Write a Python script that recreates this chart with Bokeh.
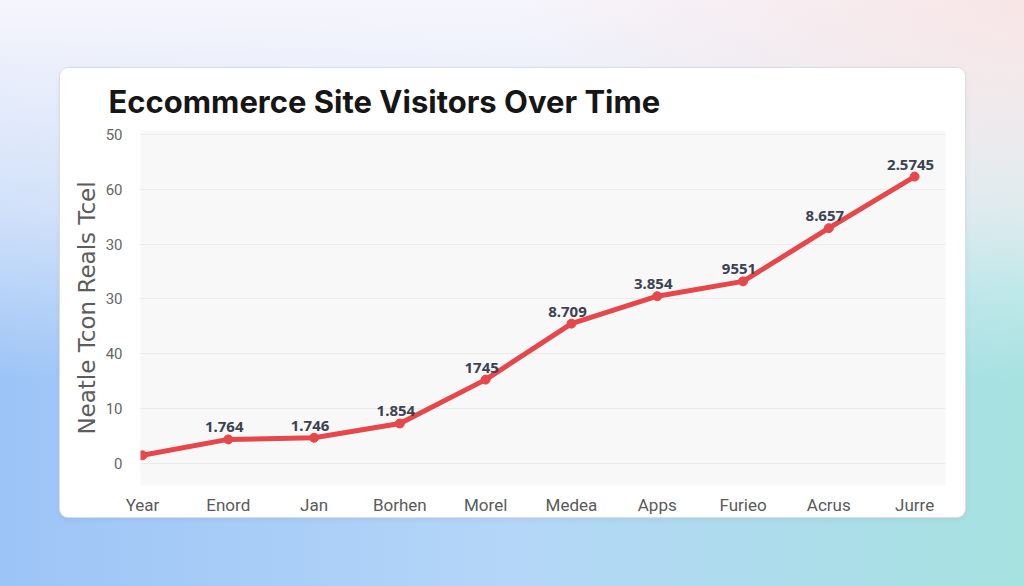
from bokeh.plotting import figure
from bokeh.models import ColumnDataSource, FixedTicker, Range1d
from bokeh.layouts import column
from bokeh.core.properties import value
from bokeh.embed import file_html
from bokeh.resources import INLINE

categories = ["Year", "Enord", "Jan", "Borhen", "Morel", "Medea", "Apps", "Furieo", "Acrus", "Jurre"]
visitors = [1.5, 4.4, 4.7, 7.3, 15.3, 25.5, 30.5, 33.2, 42.9, 52.3]
point_labels = ["", "1.764", "1.746", "1.854", "1745", "8.709", "3.854", "9551", "8.657", "2.5745"]
y_tick_values = [0, 10, 20, 30, 40, 50, 60]
y_tick_labels = ["0", "10", "40", "30", "30", "60", "50"]
title_text = "Eccommerce Site Visitors Over Time"
y_axis_title = "Neatle Tcon Reals Tcel"

xs = list(range(len(categories)))
source = ColumnDataSource(dict(x=xs, y=visitors, label=point_labels))

p = figure(
    width=905, height=449,
    x_range=Range1d(-0.023, 9.36), y_range=Range1d(-4.0, 60.7),
    output_backend="svg", toolbar_location=None,
    min_border_left=80, min_border_right=20, min_border_top=62, min_border_bottom=32,
    background_fill_color="#f8f8f8", border_fill_color=None,
    outline_line_color=None,
)
p.margin = (68, 0, 0, 60)
p.styles = {
    "background": "#ffffff",
    "border-radius": "8px",
    "box-shadow": "0 0 0 1px #dcdde2, 0 2px 6px rgba(0,0,0,0.06)",
}

p.title.text = title_text
p.title.align = "left"
p.title.offset = -32
p.title.text_font = "Inter"
p.title.text_font_size = "31px"
p.title.text_font_style = "bold"
p.title.text_color = "#161616"
p.title.standoff = 21

p.xgrid.grid_line_color = None
p.ygrid.grid_line_color = "#ebebeb"
p.ygrid.grid_line_width = 1

p.yaxis.ticker = FixedTicker(ticks=y_tick_values)
p.yaxis.major_label_overrides = {v: l for v, l in zip(y_tick_values, y_tick_labels)}
p.xaxis.ticker = FixedTicker(ticks=xs)
p.xaxis.major_label_overrides = {i: c for i, c in zip(xs, categories)}

for ax in (p.xaxis, p.yaxis):
    ax.axis_line_color = None
    ax.major_tick_line_color = None
    ax.minor_tick_line_color = None
    ax.major_label_text_font = "Roboto"
    ax.major_label_text_color = "#5a5a5a"

p.yaxis.major_label_text_font_size = "15px"
p.yaxis.major_label_text_color = "#666666"
p.yaxis.major_label_standoff = 12
p.yaxis.axis_label = y_axis_title
p.yaxis.axis_label_text_font = "DejaVu Sans"
p.yaxis.axis_label_text_font_style = "normal"
p.yaxis.axis_label_text_font_size = "23px"
p.yaxis.axis_label_text_color = "#5c5c5c"
p.yaxis.axis_label_standoff = 3

p.xaxis.major_label_text_font_size = "17px"
p.xaxis.major_label_standoff = 3

p.line("x", "y", source=source, line_width=5, line_color="#e6474a", line_join="round")
p.scatter("x", "y", source=source, size=9, fill_color="#e6474a", line_color="#e6474a")
p.text("x", "y", text="label", source=source, text_align="center", text_baseline="bottom",
       x_offset=-4, y_offset=-7, text_font=value("Noto Sans"), text_font_style="bold",
       text_font_size="15px", text_color="#3c4250")

page = column(p, width=1024, height=586, sizing_mode="fixed")
page.styles = {
    "background": "radial-gradient(ellipse at 100% 0%, rgba(248,228,228,0.9) 0%, rgba(248,228,228,0) 35%), "
                  "linear-gradient(180deg, rgba(246,245,252,1) 0%, rgba(246,245,252,0.6) 35%, rgba(246,245,252,0) 65%), "
                  "linear-gradient(90deg, #9cc4f6 0%, #b4d6f8 50%, #a6e2e0 100%)",
}

open("out.html", "w").write(file_html(page, INLINE))
